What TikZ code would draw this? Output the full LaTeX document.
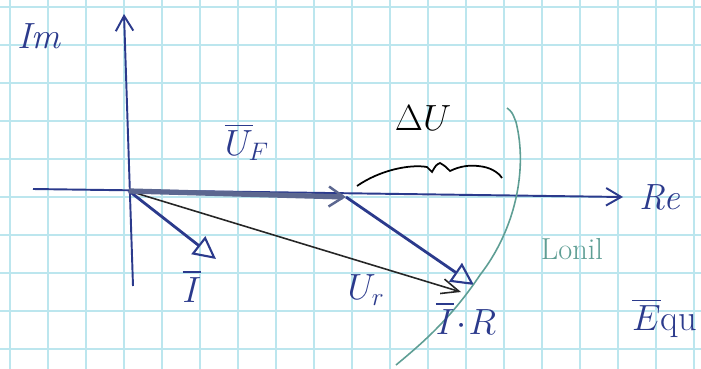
\documentclass[tikz,border=0pt]{standalone}
\usepackage{amsmath}
\usetikzlibrary{arrows.meta, positioning}
\definecolor{ink}{HTML}{2B3A8C}
\definecolor{leadgray}{HTML}{5C6790}
\definecolor{gridc}{HTML}{BCE6EE}
\definecolor{locus}{HTML}{5E9E94}
\tikzset{
  gridline/.style={draw=gridc, line width=0.8pt},
  axis/.style={draw=ink, line width=1.1pt, -{Straight Barb[length=3mm, width=3.5mm]}},
  phasor/.style={draw=ink, line width=1.6pt, -{Triangle[open, length=4.5mm, width=4.5mm, line width=1.2pt]}},
  mainv/.style={draw=leadgray, line width=3pt, -{Straight Barb[length=3mm, width=4mm, line width=1.4pt]}},
  resv/.style={draw=black!85, line width=0.9pt, -{Straight Barb[length=3.5mm, width=3mm]}},
  lbl/.style={ink, font=\huge, inner sep=1pt},
}
\begin{document}
\begin{tikzpicture}[x=0.02cm, y=-0.02cm]
  \useasboundingbox[fill=white] (0,0) rectangle (701,369);
  % squared paper
  \foreach \gx in {0,...,18}{ \draw[gridline] (10+\gx*38,0) -- (10+\gx*38,369); }
  \foreach \gy in {0,...,9}{ \draw[gridline] (0,7+\gy*38) -- (701,7+\gy*38); }

  \coordinate (O) at (129,191);
  \coordinate (reL) at (33,189);
  \coordinate (reR) at (623,197);
  \coordinate (imB) at (133,286);
  \coordinate (imT) at (124,14);
  \coordinate (uf) at (346,197);
  \coordinate (ir) at (474,285);
  \coordinate (ur) at (461,292);
  \coordinate (ii) at (216,259);

  % axes
  \draw[axis] (reL) -- (reR);
  \draw[axis] (imB) -- (imT);
  \node[lbl] (im) at (40,36) {$\mathit{Im}$};
  \node[lbl, right=8pt of reR] (re) {$\mathit{Re}$};

  % phasors
  \draw[resv] (O) -- (ur);
  \draw[phasor] (O) -- (ii);
  \draw[phasor] (uf) -- (ir);
  \draw[mainv] (O) -- (uf);

  % voltage drop bracket
  \draw[black, line width=1pt] (357,186) .. controls (380,170) and (410,164) .. (427,167)
    .. controls (430,170) .. (432,172) .. controls (436,165) .. (440,163)
    .. controls (445,166) .. (450,171) .. controls (460,166) and (470,165) .. (478,166)
    .. controls (490,167) and (498,172) .. (502,178);

  % locus arc
  \draw[locus, line width=0.9pt] (507,108) .. controls (512,112) .. (516,122)
    .. controls (528,170) and (515,230) .. (480,275)
    .. controls (450,320) and (420,345) .. (396,365);

  % labels
  \node[lbl] (uF) at (247,142) {$\overline{U}_{\!F}$};
  \node[lbl, black] (dU) at (423,118) {$\Delta U$};
  \node[lbl] (Ibar) at (192,286) {$\overline{I}$};
  \node[lbl] (Ur) at (366,290) {$U_r$};
  \node[lbl] (IR) at (466,318) {$\overline{I}\!\cdot\! R$};
  \node[lbl, locus, font=\LARGE] (loc) at (572,249) {Lonil};
  \node[lbl, anchor=west] (eq) at (630,318) {$\overline{E}$qu};
\end{tikzpicture}
\end{document}
